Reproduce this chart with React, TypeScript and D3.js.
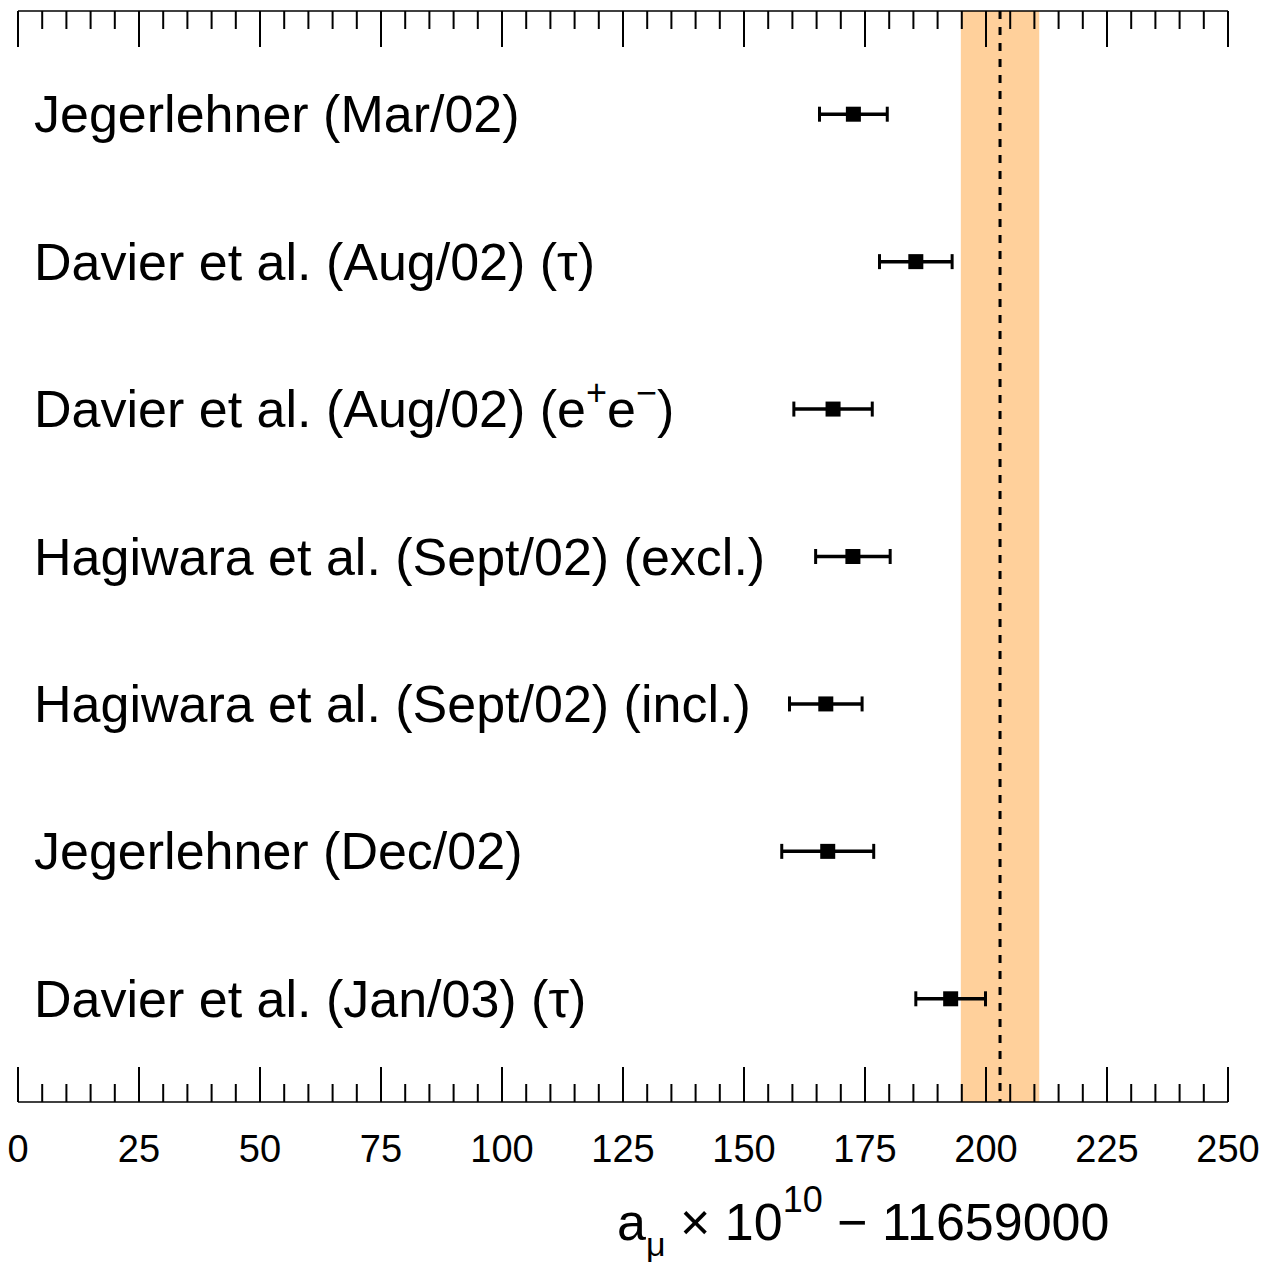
import React from 'react';
import * as d3 from 'd3';

// hadronic-contribution determinations (a_mu x 1e10 - 11659000)
const labels = [
  'Jegerlehner (Mar/02)',
  'Davier et al. (Aug/02) (τ)',
  'Davier et al. (Aug/02) (e+e−)',
  'Hagiwara et al. (Sept/02) (excl.)',
  'Hagiwara et al. (Sept/02) (incl.)',
  'Jegerlehner (Dec/02)',
  'Davier et al. (Jan/03) (τ)',
];
const values = [172.6, 185.5, 168.4, 172.5, 166.9, 167.3, 192.7];
const errors = [7.0, 7.5, 8.1, 7.7, 7.5, 9.5, 7.2];

// experimental band
const expValue = 202.9;
const expError = 8.1;

const xTicks = [0, 25, 50, 75, 100, 125, 150, 175, 200, 225, 250];

const W = 1276;
const H = 1262;
const top = 11;
const bottom = 1102;
const left = 18;
const right = 1228;

const font = 'Liberation Sans, Arial, Helvetica, sans-serif';

function Label({ text, x, y }: { text: string; x: number; y: number }) {
  if (text.includes('(e+e−)')) {
    const head = text.replace('(e+e−)', '');
    return (
      <text x={x} y={y} fontSize={52} fontFamily={font}>
        {head}(e
        <tspan fontSize={36} dy={-22}>+</tspan>
        <tspan fontSize={52} dy={22}>e</tspan>
        <tspan fontSize={36} dy={-22}>−</tspan>
        <tspan fontSize={52} dy={22}>)</tspan>
      </text>
    );
  }
  return (
    <text x={x} y={y} fontSize={52} fontFamily={font}>
      {text}
    </text>
  );
}

export default function App() {
  const x = d3.scaleLinear().domain([0, 250]).range([left, right]);
  const y = d3.scalePoint<string>().domain(labels).range([top, bottom]).padding(0.7);
  const minor = d3.range(0, 251, 5);

  return (
    <svg width={W} height={H} style={{ display: 'block', position: 'absolute', left: 0, top: 0 }}>
      <rect width={W} height={H} fill="#fff" />
      {/* experimental band */}
      <rect
        x={x(expValue - expError)}
        y={top}
        width={x(expValue + expError) - x(expValue - expError)}
        height={bottom - top}
        fill="#ffd09b"
      />
      <line
        x1={x(expValue)}
        x2={x(expValue)}
        y1={top}
        y2={bottom}
        stroke="#000"
        strokeWidth={3}
        strokeDasharray="8,8"
      />

      {/* axes */}
      <line x1={left} x2={right} y1={top} y2={top} stroke="#000" strokeWidth={1.5} />
      <line x1={left} x2={right} y1={bottom} y2={bottom} stroke="#000" strokeWidth={1.5} />
      {minor.map((v) => {
        const major = v % 25 === 0;
        return (
          <g key={v}>
            <line x1={x(v)} x2={x(v)} y1={top} y2={top + (major ? 36 : 18)} stroke="#000" strokeWidth={2} />
            <line x1={x(v)} x2={x(v)} y1={bottom} y2={bottom - (major ? 35 : 18)} stroke="#000" strokeWidth={2} />
          </g>
        );
      })}
      {xTicks.map((v) => (
        <text key={v} x={x(v)} y={1162} textAnchor="middle" fontSize={38} fontFamily={font}>
          {v}
        </text>
      ))}

      {/* axis title */}
      <text x={617} y={1240} fontSize={52} fontFamily={font}>
        a
        <tspan fontSize={34} dy={16}>μ</tspan>
        <tspan fontSize={52} dy={-16}> × 10</tspan>
        <tspan fontSize={36} dy={-28}>10</tspan>
        <tspan fontSize={52} dy={28}> − 11659000</tspan>
      </text>

      {/* measurements */}
      {labels.map((l, i) => {
        const cy = y(l)!;
        const x0 = x(values[i] - errors[i]);
        const x1 = x(values[i] + errors[i]);
        return (
          <g key={l}>
            <Label text={l} x={34} y={cy + 18} />
            <line x1={x0} x2={x1} y1={cy} y2={cy} stroke="#000" strokeWidth={3.5} />
            <line x1={x0} x2={x0} y1={cy - 7.5} y2={cy + 7.5} stroke="#000" strokeWidth={3} />
            <line x1={x1} x2={x1} y1={cy - 7.5} y2={cy + 7.5} stroke="#000" strokeWidth={3} />
            <rect x={x(values[i]) - 7.5} y={cy - 7.5} width={15} height={15} fill="#000" />
          </g>
        );
      })}
    </svg>
  );
}
